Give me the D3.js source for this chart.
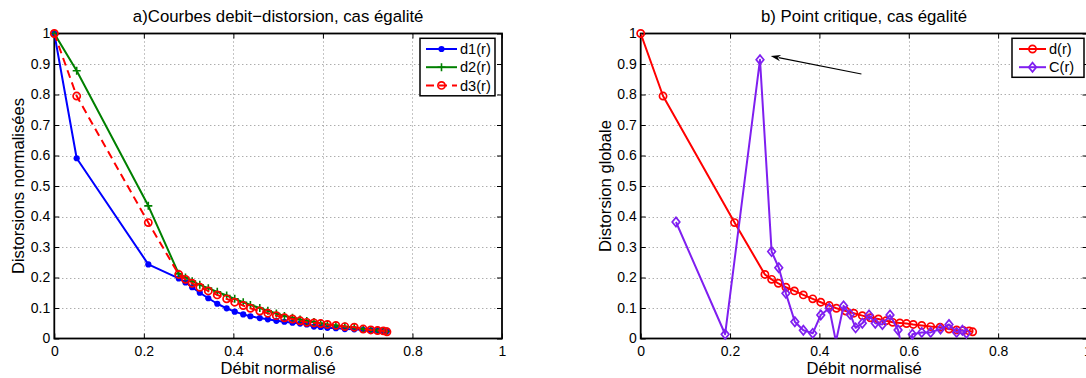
<!DOCTYPE html>
<html>
<head>
<meta charset="utf-8">
<script src="https://cdn.jsdelivr.net/npm/d3@7"></script>
<style>
  body { margin: 0; background: #fff; }
  svg { display: block; font-family: "Liberation Sans", Arial, Helvetica, sans-serif; }
</style>
</head>
<body>
<svg id="chart" width="1086" height="378"></svg>
<script>
// Normalised rates shared by the rate–distortion curves
const rate = [0, 0.05, 0.21, 0.278, 0.293, 0.308, 0.325, 0.344, 0.364, 0.385, 0.403,
  0.422, 0.438, 0.459, 0.477, 0.496, 0.514, 0.532, 0.549, 0.564, 0.580, 0.595,
  0.610, 0.629, 0.649, 0.670, 0.690, 0.707, 0.722, 0.735, 0.743];

const d1 = [1, 0.591, 0.243, 0.197, 0.184, 0.168, 0.150, 0.132, 0.114, 0.099, 0.088,
  0.079, 0.073, 0.067, 0.063, 0.058, 0.055, 0.052, 0.049, 0.046, 0.039, 0.038,
  0.035, 0.034, 0.031, 0.030, 0.028, 0.027, 0.026, 0.025, 0.025];

const d2 = [1, 0.878, 0.435, 0.212, 0.200, 0.188, 0.176, 0.165, 0.153, 0.141, 0.130,
  0.119, 0.110, 0.100, 0.091, 0.082, 0.074, 0.068, 0.062, 0.057, 0.054, 0.050,
  0.046, 0.043, 0.039, 0.036, 0.031, 0.028, 0.026, 0.025, 0.023];

const d3v = [1, 0.795, 0.38, 0.210, 0.194, 0.181, 0.168, 0.156, 0.143, 0.130, 0.119,
  0.108, 0.099, 0.090, 0.083, 0.075, 0.068, 0.064, 0.058, 0.053, 0.051, 0.049,
  0.046, 0.043, 0.039, 0.037, 0.031, 0.028, 0.026, 0.025, 0.022];

// Critical-point criterion C(r)
const critRate = [0.079, 0.189, 0.267, 0.293, 0.309, 0.325, 0.345, 0.364, 0.385, 0.403,
  0.422, 0.437, 0.454, 0.469, 0.481, 0.496, 0.511, 0.525, 0.541, 0.558,
  0.576, 0.595, 0.608, 0.629, 0.649, 0.671, 0.690, 0.707, 0.720, 0.729];
const critVal = [0.382, 0.014, 0.914, 0.285, 0.232, 0.148, 0.055, 0.027, 0.017, 0.077,
  0.099, -0.01, 0.107, 0.079, 0.035, 0.050, 0.077, 0.050, 0.046, 0.077,
  0.028, -0.1, 0.014, 0.020, 0.020, 0.031, 0.046, 0.020, 0.027, 0.017];

const xTicks = [0, 0.2, 0.4, 0.6, 0.8, 1];
const xTickLabels = ["0", "0.2", "0.4", "0.6", "0.8", "1"];
const yTicks = [0, 0.1, 0.2, 0.3, 0.4, 0.5, 0.6, 0.7, 0.8, 0.9, 1];
const yTickLabels = ["0", "0.1", "0.2", "0.3", "0.4", "0.5", "0.6", "0.7", "0.8", "0.9", "1"];

const titles = ["a)Courbes debit\u2212distorsion, cas égalité", "b) Point critique, cas égalité"];
const xLabel = "Débit normalisé";
const yLabels = ["Distorsions normalisées", "Distorsion globale"];
const legendA = ["d1(r)", "d2(r)", "d3(r)"];
const legendB = ["d(r)", "C(r)"];

const BLUE = "#0000ff", GREEN = "#008000", RED = "#ff0000", PURPLE = "#7f1ff0";

const svg = d3.select("#chart");
const TOP = 33.5, BOTTOM = 338.5;

function panel(left, right, idx, ylabelX) {
  const x = d3.scaleLinear().domain([0, 1]).range([left, right]);
  const y = d3.scaleLinear().domain([0, 1]).range([BOTTOM, TOP]);
  const g = svg.append("g");

  // dotted grid
  const grid = g.append("g").attr("stroke", "#8a8a8a").attr("stroke-width", 1)
    .attr("stroke-dasharray", "1,3");
  grid.selectAll("line.vx").data(xTicks.slice(1, -1)).join("line")
    .attr("x1", d => Math.round(x(d)) + 0.5).attr("x2", d => Math.round(x(d)) + 0.5)
    .attr("y1", TOP).attr("y2", BOTTOM);
  grid.selectAll("line.hy").data(yTicks.slice(1, -1)).join("line")
    .attr("y1", d => Math.round(y(d)) + 0.5).attr("y2", d => Math.round(y(d)) + 0.5)
    .attr("x1", left).attr("x2", right);

  // axes with inward ticks
  const styleAxis = a => {
    a.attr("font-size", 14).attr("font-family", null);
    a.select(".domain").remove();
    a.selectAll("text").attr("fill", "#000");
    a.selectAll("line").attr("stroke", "#000");
  };
  g.append("g").attr("transform", `translate(0,${BOTTOM})`)
    .call(d3.axisBottom(x).tickValues(xTicks).tickFormat((d, i) => xTickLabels[i]).tickSize(-5).tickPadding(8))
    .call(styleAxis);
  g.append("g").attr("transform", `translate(0,${TOP})`)
    .call(d3.axisTop(x).tickValues(xTicks).tickFormat("").tickSize(-5))
    .call(styleAxis);
  g.append("g").attr("transform", `translate(${left},0)`)
    .call(d3.axisLeft(y).tickValues(yTicks).tickFormat((d, i) => yTickLabels[i]).tickSize(-5).tickPadding(4))
    .call(styleAxis);
  g.append("g").attr("transform", `translate(${right},0)`)
    .call(d3.axisRight(y).tickValues(yTicks).tickFormat("").tickSize(-5))
    .call(styleAxis);

  // frame
  g.append("rect").attr("x", left).attr("y", TOP).attr("width", right - left).attr("height", BOTTOM - TOP)
    .attr("fill", "none").attr("stroke", "#000").attr("stroke-width", 1.8);

  // titles and labels
  g.append("text").attr("x", (left + right) / 2).attr("y", 21.5).attr("text-anchor", "middle")
    .attr("font-size", 16.8).text(titles[idx]);
  g.append("text").attr("x", (left + right) / 2).attr("y", 373.5).attr("text-anchor", "middle")
    .attr("font-size", 16.6).text(xLabel);
  g.append("text").attr("transform", `translate(${ylabelX},${(TOP + BOTTOM) / 2}) rotate(-90)`)
    .attr("text-anchor", "middle").attr("font-size", 16.6).text(yLabels[idx]);

  const clipId = "clip" + idx;
  svg.append("clipPath").attr("id", clipId).append("rect")
    .attr("x", left).attr("y", TOP).attr("width", right - left).attr("height", BOTTOM - TOP);

  return { g, x, y, clipId };
}

function marker(sel, type, color) {
  if (type === "dot") {
    sel.append("circle").attr("r", 3.1).attr("fill", color);
  } else if (type === "plus") {
    sel.append("path").attr("d", "M-4,0H4M0,-4V4").attr("stroke", color).attr("stroke-width", 1.6).attr("fill", "none");
  } else if (type === "circle") {
    sel.append("circle").attr("r", 3.6).attr("fill", "none").attr("stroke", color).attr("stroke-width", 1.7);
  } else if (type === "diamond") {
    sel.append("path").attr("d", "M0,-4.6L3.8,0L0,4.6L-3.8,0Z").attr("fill", "none")
      .attr("stroke", color).attr("stroke-width", 1.7);
  }
}

function series(p, xs, ys, color, type, dash) {
  const pts = xs.map((r, i) => [r, ys[i]]);
  p.g.append("path").datum(pts).attr("clip-path", `url(#${p.clipId})`)
    .attr("fill", "none").attr("stroke", color).attr("stroke-width", 2)
    .attr("stroke-linejoin", "round")
    .attr("stroke-dasharray", dash || null)
    .attr("d", d3.line().x(d => p.x(d[0])).y(d => p.y(d[1])));
  const visible = pts.filter(d => d[1] >= 0 && d[1] <= 1);
  visible.forEach(d => {
    const m = p.g.append("g").attr("transform", `translate(${p.x(d[0])},${p.y(d[1])})`);
    marker(m, type, color);
  });
}

function legend(p, x0, y0, w, items) {
  const h = items.length * 18.5 + 2;
  const lg = p.g.append("g");
  lg.append("rect").attr("x", x0).attr("y", y0).attr("width", w).attr("height", h)
    .attr("fill", "#fff").attr("stroke", "#000").attr("stroke-width", 1.5);
  items.forEach((it, i) => {
    const cy = y0 + 10.7 + i * 18.2;
    lg.append("line").attr("x1", x0 + it.l0).attr("x2", x0 + it.l1).attr("y1", cy).attr("y2", cy)
      .attr("stroke", it.color).attr("stroke-width", 2).attr("stroke-dasharray", it.dash || null);
    const m = lg.append("g").attr("transform", `translate(${x0 + (it.l0 + it.l1) / 2},${cy})`);
    marker(m, it.type, it.color);
    lg.append("text").attr("x", x0 + it.l1 + 3).attr("y", cy).attr("dy", "0.36em")
      .attr("font-size", 14.6).text(it.label);
  });
}

// ---- panel a: rate–distortion curves
const pa = panel(54.3, 502, 0, 23.5);
series(pa, rate, d1, BLUE, "dot");
series(pa, rate, d2, GREEN, "plus");
series(pa, rate, d3v, RED, "circle", "8,5");
legend(pa, 420, 38.3, 75, [
  { label: legendA[0], color: BLUE, type: "dot", l0: 6, l1: 37 },
  { label: legendA[1], color: GREEN, type: "plus", l0: 6, l1: 37 },
  { label: legendA[2], color: RED, type: "circle", l0: 6, l1: 37, dash: "8,5" }
]);

// ---- panel b: global distortion and critical-point criterion
const pb = panel(640.7, 1087.5, 1, 610.5);
series(pb, rate, d3v, RED, "circle");
series(pb, critRate, critVal, PURPLE, "diamond");
legend(pb, 1012, 38.3, 72, [
  { label: legendB[0], color: RED, type: "circle", l0: 7, l1: 34 },
  { label: legendB[1], color: PURPLE, type: "diamond", l0: 7, l1: 34 }
]);

// arrow pointing at the critical peak
const tail = [pb.x(0.494), pb.y(0.867)], tip = [pb.x(0.291), pb.y(0.926)];
const ang = Math.atan2(tip[1] - tail[1], tip[0] - tail[0]);
const hl = 10, hw = 3.2;
const bx = tip[0] - hl * Math.cos(ang), by = tip[1] - hl * Math.sin(ang);
const nx = -Math.sin(ang), ny = Math.cos(ang);
pb.g.append("line").attr("x1", tail[0]).attr("y1", tail[1]).attr("x2", bx + 2 * Math.cos(ang)).attr("y2", by + 2 * Math.sin(ang))
  .attr("stroke", "#000").attr("stroke-width", 1.1);
pb.g.append("path")
  .attr("d", `M${tip[0]},${tip[1]}L${bx + hw * nx},${by + hw * ny}L${bx + 3 * Math.cos(ang)},${by + 3 * Math.sin(ang)}L${bx - hw * nx},${by - hw * ny}Z`)
  .attr("fill", "#000");
</script>
</body>
</html>
